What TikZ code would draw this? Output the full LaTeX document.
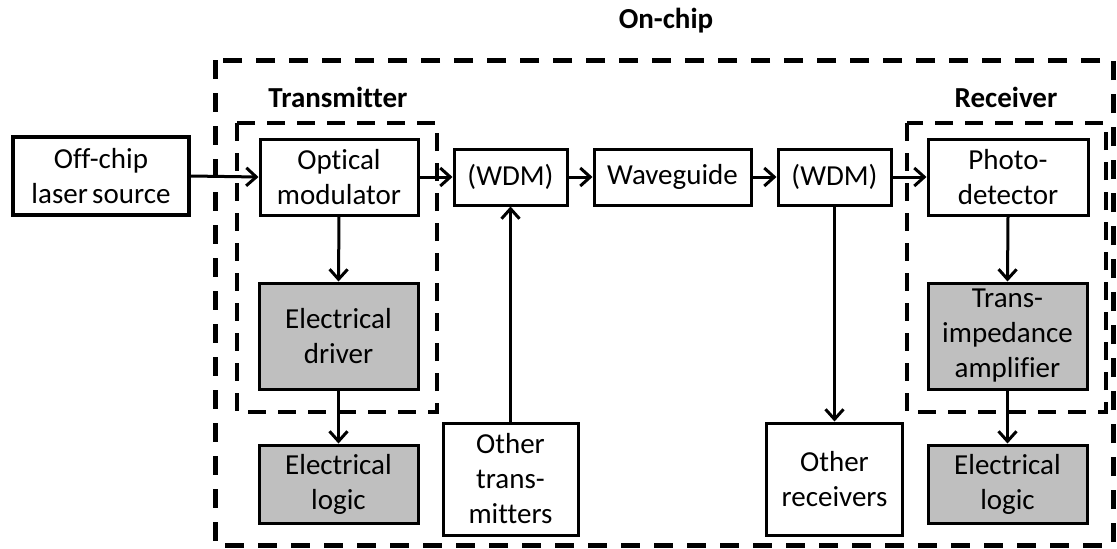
\documentclass[tikz,border=0pt]{standalone}
\usepackage{fontspec}
\setmainfont{Carlito}[Ligatures={NoCommon}]
\usetikzlibrary{arrows.meta}
\definecolor{boxgray}{RGB}{191,191,191}
\begin{document}
\begin{tikzpicture}[x=1pt,y=-1pt,
  blk/.style={draw, line width=3pt, align=center, inner sep=0pt, fill=white,
    font=\fontsize{29}{35}\selectfont},
  grayblk/.style={blk, fill=boxgray},
  lbl/.style={font=\fontsize{29}{35}\selectfont\bfseries, inner sep=0pt},
  arr/.style={line width=3pt, -{Straight Barb[length=10pt,width=18pt,line width=3pt]}},
  outerdash/.style={line width=5pt, dash pattern=on 19pt off 14pt},
  innerdash/.style={line width=3.5pt, dash pattern=on 18pt off 12pt}]
\useasboundingbox (0,0) rectangle (1117,549);
% dashed frames
\draw[outerdash] (215,60) rectangle (1113,545);
\draw[innerdash] (237,123) rectangle (437,412);
\draw[innerdash] (907,123) rectangle (1106,412);
% labels
\node[lbl] (onchip) at (666,21) {On-chip};
\node[lbl] (tx) at (338,97) {Transmitter};
\node[lbl] (rx) at (1006,97) {Receiver};
% blocks
\node[blk, line width=3.5pt, minimum width=176, minimum height=78] (laser) at (101,176) {Off-chip\\laser\hspace{0.15em}source};
\node[blk, minimum width=158, minimum height=76] (om) at (339,177) {Optical\\modulator};
\node[grayblk, minimum width=159, minimum height=106] (drv) at (338.5,336) {Electrical\\driver};
\node[grayblk, minimum width=159, minimum height=78] (logL) at (338.5,484) {Electrical\\logic};
\node[blk, minimum width=135, minimum height=112] (othT) at (510.5,479) {Other\\trans-\\mitters};
\node[blk, minimum width=113, minimum height=56] (wdm1) at (510.5,177) {(WDM)};
\node[blk, minimum width=157, minimum height=56] (wg) at (672.5,177) {Waveguide};
\node[blk, minimum width=113, minimum height=56] (wdm2) at (834.5,177) {(WDM)};
\node[blk, minimum width=160, minimum height=76] (pd) at (1008,177) {Photo-\\detector};
\node[grayblk, minimum width=159, minimum height=106] (tia) at (1007.5,336) {Trans-\\impedance\\amplifier};
\node[grayblk, minimum width=159, minimum height=78] (logR) at (1007.5,484) {Electrical\\logic};
\node[blk, minimum width=136, minimum height=112] (othR) at (834.5,479) {Other\\receivers};
% connectors
\draw[arr] (laser.east) -- (om.west);
\draw[arr] (om.east) -- (wdm1.west);
\draw[arr] (wdm1.east) -- (wg.west);
\draw[arr] (wg.east) -- (wdm2.west);
\draw[arr] (wdm2.east) -- (pd.west);
\draw[arr] (om.south) -- (drv.north);
\draw[arr] (drv.south) -- (logL.north);
\draw[arr] (othT.north) -- (wdm1.south);
\draw[arr] (wdm2.south) -- (othR.north);
\draw[arr] (pd.south) -- (tia.north);
\draw[arr] (tia.south) -- (logR.north);
\end{tikzpicture}
\end{document}
